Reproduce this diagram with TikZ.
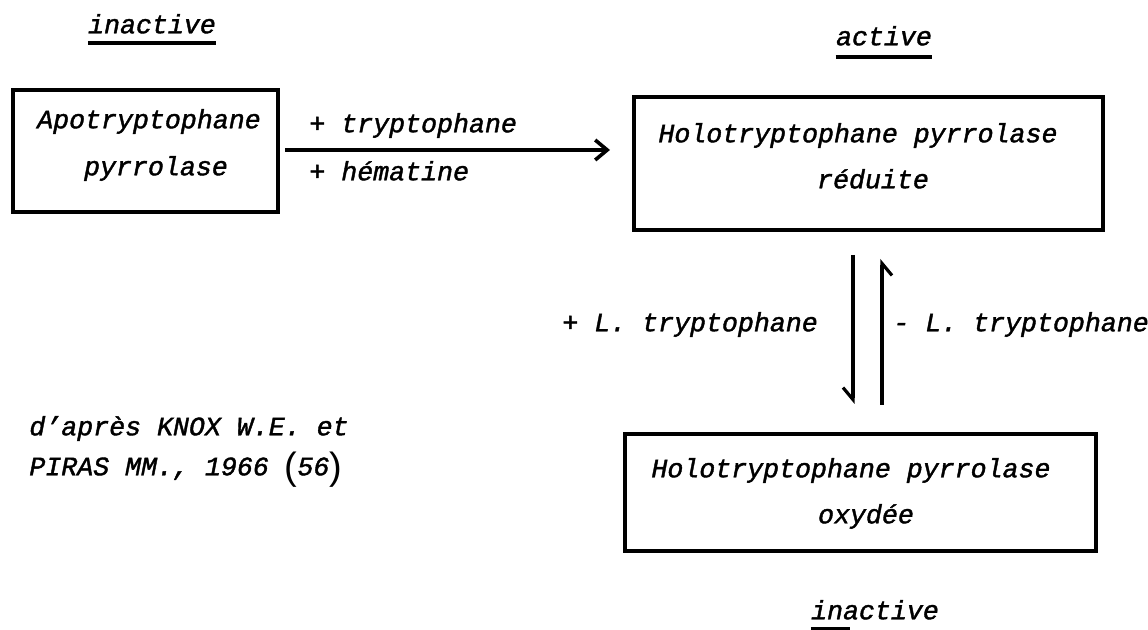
\documentclass[tikz,border=0pt]{standalone}
\usepackage{fontspec}
\setmainfont{Liberation Mono}[ItalicFeatures={FakeBold=1.5}]
\newfontfamily\parenfont{Liberation Sans}
\usetikzlibrary{arrows.meta}
\newcommand{\tallparen}[1]{\raisebox{-0.15em}{\parenfont\upshape\fontsize{19}{19}\selectfont #1}}
\begin{document}
\begin{tikzpicture}[x=0.5pt,y=-0.5pt,
  every node/.style={font=\fontsize{13.3}{16}\selectfont\itshape, inner sep=0pt},
  box/.style={draw, line width=2pt, rectangle},
  lbl/.style={anchor=mid},
  lblw/.style={anchor=mid west},
  ul/.style={line width=1.8pt},
  rxn/.style={line width=1.8pt, -{Straight Barb[length=6pt,width=10pt,line width=1.8pt]}},
  harp/.style={line width=1.6pt, -{Straight Barb[right,length=6pt,width=10pt,line width=1.6pt]}}]
\useasboundingbox (0,0) rectangle (1148,630);

% boxes
\node[box, minimum width=132.5pt, minimum height=61pt] (b1) at (145.5,151) {};
\node[box, minimum width=234.5pt, minimum height=66.5pt] (b2) at (868.5,164) {};
\node[box, minimum width=235.5pt, minimum height=58.5pt] (b3) at (860.5,493) {};

% box texts
\node[lbl] (t1a) at (149,123) {Apotryptophane};
\node[lbl] (t1b) at (156,170) {pyrrolase};
\node[lbl] (t2a) at (858,137) {Holotryptophane pyrrolase};
\node[lbl] (t2b) at (873,183) {réduite};
\node[lbl] (t3a) at (851,472) {Holotryptophane pyrrolase};
\node[lbl] (t3b) at (866,518) {oxydée};

% state labels
\node[lbl] (ina1) at (152,28) {inactive};
\draw[ul] (ina1.west |- 0,43) -- (ina1.east |- 0,43);
\node[lbl] (act) at (884,40) {active};
\draw[ul] (act.west |- 0,57) -- (act.east |- 0,57);
\node[lbl] (ina2) at (875,614) {inactive};
\draw[ul] (ina2.west |- 0,629) -- (850,629);

% horizontal reaction
\coordinate (h1) at (285,150);
\coordinate (h2) at (610,150);
\draw[rxn] (h1) -- (h2);
\node[lblw] (plt) at (309,127) {+ tryptophane};
\node[lblw] (plh) at (309,175) {+ hématine};

% vertical equilibrium
\coordinate (d1) at (853,255);
\coordinate (d2) at (853,404);
\coordinate (u1) at (882,405);
\coordinate (u2) at (882,259);
\draw[harp] (d1) -- (d2);
\draw[harp] (u1) -- (u2);
\node[lblw] (pL) at (562,326) {+ L. tryptophane};
\node[lblw] (mL) at (893,326) {- L. tryptophane};

% reference
\node[lblw] (ref1) at (29,430) {d{\char"0027}après KNOX W.E. et};
\node[lblw] (ref2) at (29,470) {PIRAS MM., 1966 \tallparen{(}56\tallparen{)}};
\end{tikzpicture}
\end{document}
